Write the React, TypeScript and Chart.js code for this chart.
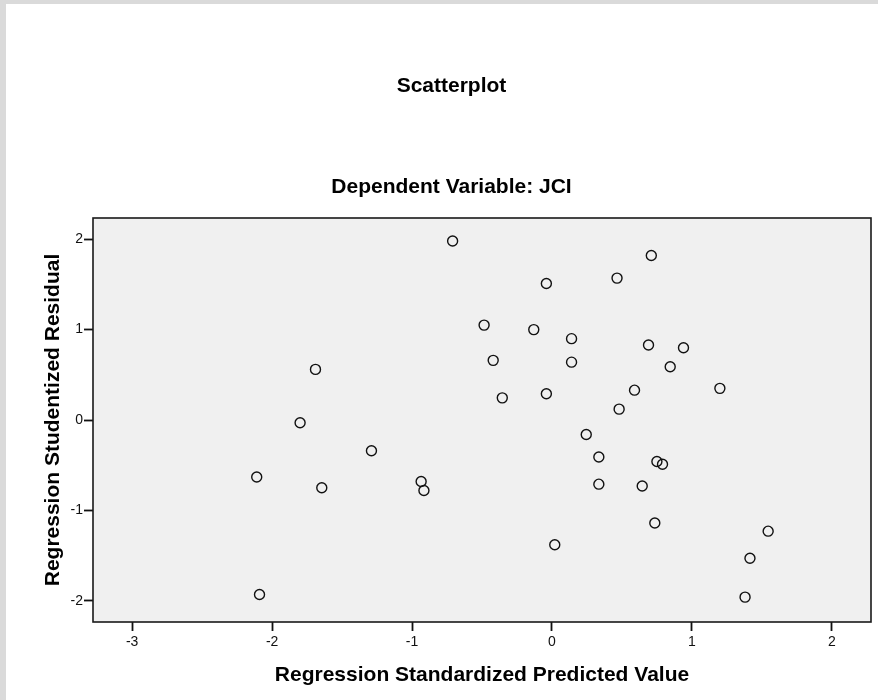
import { useEffect, useRef } from 'react';
import { Chart, registerables } from 'chart.js';

Chart.register(...registerables);

const chartTitle = 'Scatterplot';
const chartSubtitle = 'Dependent Variable: JCI';
const xAxisTitle = 'Regression Standardized Predicted Value';
const yAxisTitle = 'Regression Studentized Residual';

const xTickValues = [-3, -2, -1, 0, 1, 2];
const yTickValues = [-2, -1, 0, 1, 2];

const predictedValues = [
  -0.71, 0.71, 0.465, -0.04, -0.485, -0.13, 0.14, 0.69, 0.94, -0.42, 0.14, -1.69,
  0.845, 1.2, 0.59, -0.355, -0.04, 0.48, -1.8, 0.245, -1.29, 0.335, 0.75, 0.79,
  -2.11, -0.935, -0.915, -1.645, 0.335, 0.645, 0.735, 1.545, 0.02, 1.415, -2.09, 1.38,
];
const residualValues = [
  1.98, 1.82, 1.57, 1.51, 1.05, 1.0, 0.9, 0.83, 0.8, 0.66, 0.64, 0.56,
  0.59, 0.35, 0.33, 0.245, 0.29, 0.12, -0.03, -0.16, -0.34, -0.41, -0.46, -0.49,
  -0.63, -0.68, -0.78, -0.75, -0.71, -0.73, -1.14, -1.23, -1.38, -1.53, -1.93, -1.96,
];

const FONT = "'Liberation Sans', Arial, sans-serif";

const framePlugin = {
  id: 'frame',
  beforeDraw(chart: any) {
    const { ctx, chartArea: a, width, height } = chart;
    ctx.save();
    ctx.fillStyle = '#ffffff';
    ctx.fillRect(0, 0, width, height);
    ctx.fillStyle = '#dadada';
    ctx.fillRect(0, 0, width, 4);
    ctx.fillRect(0, 0, 6, height);
    ctx.fillStyle = '#f0f0f0';
    ctx.fillRect(a.left, a.top, a.right - a.left, a.bottom - a.top);
    ctx.restore();
  },
  beforeDatasetsDraw(chart: any) {
    const { ctx, chartArea: a } = chart;
    ctx.save();
    ctx.strokeStyle = '#1a1a1a';
    ctx.lineWidth = 1.6;
    ctx.strokeRect(a.left, a.top, a.right - a.left, a.bottom - a.top);
    ctx.restore();
  },
};

export default function App() {
  const canvasRef = useRef<HTMLCanvasElement | null>(null);

  useEffect(() => {
    document.body.style.margin = '0';
    const canvas = canvasRef.current;
    if (!canvas) return;
    const points = predictedValues.map((x, i) => ({ x, y: residualValues[i] }));
    const chart = new Chart(canvas, {
      type: 'scatter',
      data: {
        datasets: [
          {
            data: points,
            pointRadius: 5,
            pointHoverRadius: 5,
            pointBorderWidth: 1.4,
            pointBorderColor: '#111111',
            pointBackgroundColor: 'rgba(0,0,0,0)',
          },
        ],
      },
      options: {
        responsive: false,
        animation: false,
        layout: { padding: { left: 32, right: 7, top: 0, bottom: 0 } },
        plugins: {
          legend: { display: false },
          tooltip: { enabled: false },
          title: {
            display: true,
            text: chartTitle,
            color: '#000',
            font: { family: FONT, size: 21, weight: 'bold', lineHeight: 1.2 },
            padding: { top: 74, bottom: 0 },
          },
          subtitle: {
            display: true,
            text: chartSubtitle,
            color: '#000',
            font: { family: FONT, size: 21, weight: 'bold', lineHeight: 1.2 },
            padding: { top: 75, bottom: 18.6 },
          },
        },
        scales: {
          x: {
            type: 'linear',
            min: -3.28,
            max: 2.28,
            afterBuildTicks: (scale: any) => {
              scale.ticks = xTickValues.map((v) => ({ value: v }));
            },
            afterFit: (scale: any) => {
              scale.height = 78;
            },
            ticks: {
              color: '#111',
              font: { family: FONT, size: 14 },
              padding: 3,
              maxRotation: 0,
              autoSkip: false,
            },
            grid: {
              display: true,
              drawOnChartArea: false,
              drawTicks: true,
              tickLength: 9,
              tickColor: '#111',
              tickWidth: 1.8,
            },
            border: { display: false },
            title: {
              display: true,
              text: xAxisTitle,
              color: '#000',
              font: { family: FONT, size: 21, weight: 'bold', lineHeight: 1.2 },
              padding: { top: 0, bottom: 12.4 },
            },
          },
          y: {
            type: 'linear',
            min: -2.235,
            max: 2.235,
            afterBuildTicks: (scale: any) => {
              scale.ticks = yTickValues.map((v) => ({ value: v }));
            },
            afterFit: (scale: any) => {
              scale.width = 61;
            },
            ticks: {
              color: '#111',
              font: { family: FONT, size: 14 },
              padding: 1,
              autoSkip: false,
            },
            grid: {
              display: true,
              drawOnChartArea: false,
              drawTicks: true,
              tickLength: 9,
              tickColor: '#111',
              tickWidth: 1.8,
            },
            border: { display: false },
            title: {
              display: true,
              text: yAxisTitle,
              color: '#000',
              font: { family: FONT, size: 21, weight: 'bold', lineHeight: 1.2 },
              padding: { top: 8.4, bottom: 0 },
            },
          },
        },
      },
      plugins: [framePlugin],
    });
    return () => chart.destroy();
  }, []);

  return (
    <div style={{ width: 878, height: 700 }}>
      <canvas ref={canvasRef} width={878} height={700} style={{ display: 'block' }} />
    </div>
  );
}
